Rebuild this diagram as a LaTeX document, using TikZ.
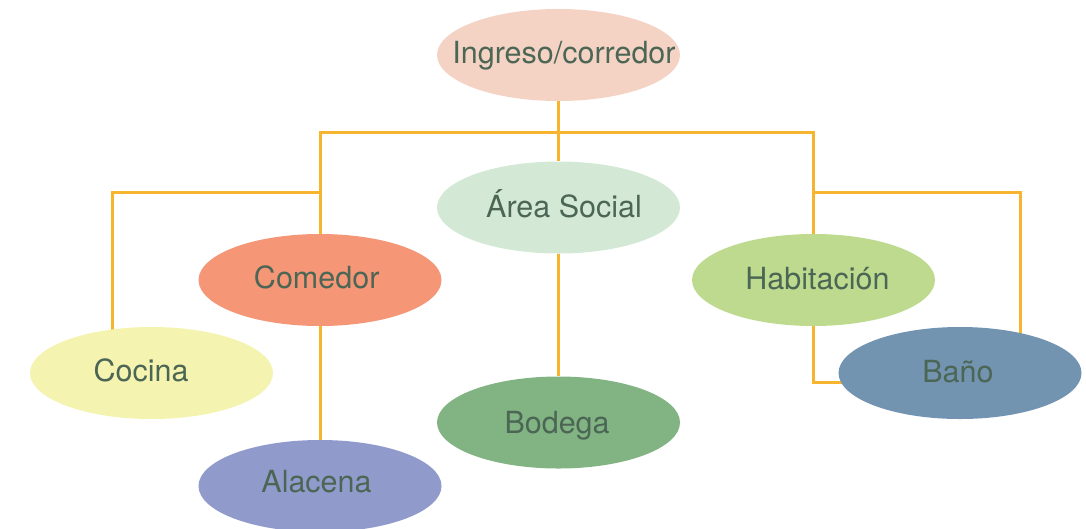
\documentclass[tikz,border=0pt]{standalone}
\usepackage{fontspec}
\setmainfont{TeX Gyre Heros}
\usetikzlibrary{shapes.geometric,backgrounds}
\definecolor{cIng}{HTML}{F5D3C4}
\definecolor{cSoc}{HTML}{D3E9D5}
\definecolor{cCom}{HTML}{F59677}
\definecolor{cHab}{HTML}{BDDA8E}
\definecolor{cCoc}{HTML}{F4F3AF}
\definecolor{cBod}{HTML}{82B483}
\definecolor{cBan}{HTML}{7394B0}
\definecolor{cAla}{HTML}{909BCB}
\definecolor{cLine}{HTML}{F7B52F}
\definecolor{cText}{HTML}{4C6655}
% text centred at the node with a horizontal shift #1 and baseline at #2 from the centre
\newcommand\roomtxt[3]{\makebox[0pt][c]{\kern#1\raisebox{#2}[0pt][0pt]{#3}\kern-#1}}
\tikzset{
  room/.style={ellipse, minimum width=243pt, minimum height=92pt, inner sep=0pt,
    text=cText, font=\fontsize{30.5}{34}\selectfont},
  link/.style={draw=cLine, line width=3pt}
}
\begin{document}
\begin{tikzpicture}[x=1pt,y=-1pt]
\useasboundingbox (0,0) rectangle (1086,528);
\clip (0,0) rectangle (1086,528);
\node[room, fill=cIng] (ing) at (558.5,55) {\roomtxt{5.5pt}{-8pt}{Ingreso/corredor}};
\node[room, fill=cSoc] (soc) at (558.5,207.5) {\roomtxt{5.5pt}{-9.5pt}{Área Social}};
\node[room, fill=cCom] (com) at (320,280) {\roomtxt{-3.3pt}{-8pt}{Comedor}};
\node[room, fill=cHab] (hab) at (813.5,280) {\roomtxt{4pt}{-9pt}{Habitación}};
\node[room, fill=cCoc] (coc) at (151.5,373) {\roomtxt{-10.5pt}{-8pt}{Cocina}};
\node[room, fill=cBod] (bod) at (558.5,422.5) {\roomtxt{-1.5pt}{-10.5pt}{Bodega}};
\node[room, fill=cBan] (ban) at (960,373) {\roomtxt{-2pt}{-9pt}{Baño}};
\node[room, fill=cAla] (ala) at (320,486) {\roomtxt{-3.5pt}{-6pt}{Alacena}};
\coordinate (bar) at (558.5,132);
\coordinate (lbar) at (320,192);
\coordinate (rbar) at (813.5,192);
\begin{scope}[on background layer]
\draw[link] (ing.south) -- (soc.north);
\draw[link] (com.north) -- (com.north |- bar) -- (hab.north |- bar) -- (hab.north);
\draw[link] (lbar) -| ([xshift=-39.5pt]coc.center);
\draw[link] (rbar) -| ([xshift=60pt]ban.center);
\draw[link] (com.south) -- (ala.north);
\draw[link] (soc.south) -- (bod.north);
\draw[link] (hab.south) |- ([yshift=-9pt]ban.center);
\end{scope}
\end{tikzpicture}
\end{document}
